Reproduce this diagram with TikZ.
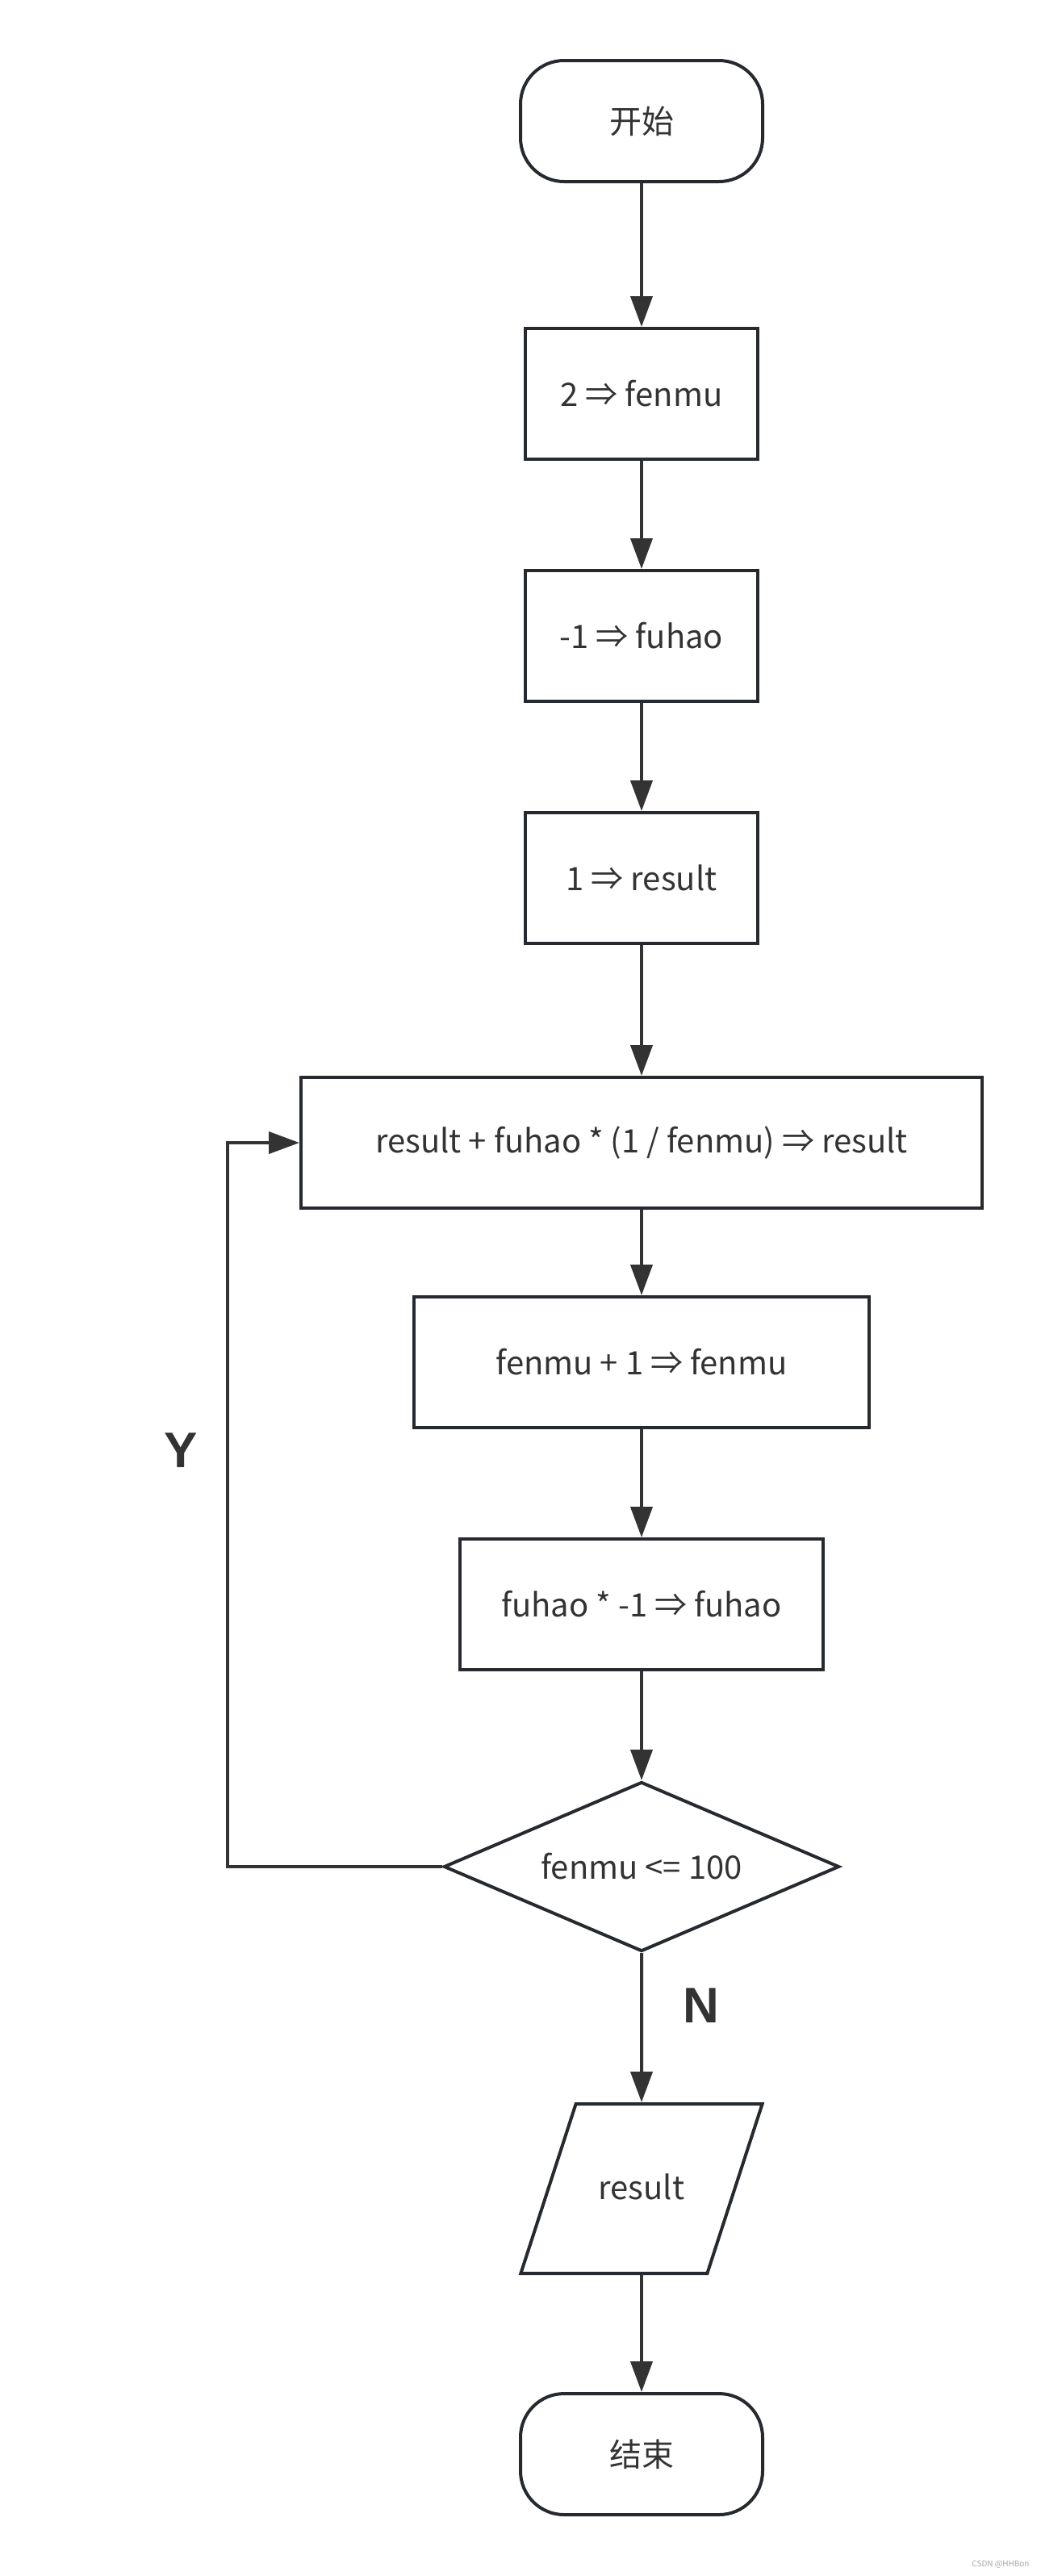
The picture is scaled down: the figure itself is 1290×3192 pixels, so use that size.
\documentclass[tikz,border=0pt]{standalone}
\usepackage{fontspec}
\setmainfont{Noto Sans CJK SC}
\newfontfamily\lblfont{Liberation Sans}
\usepackage{tikz}
\usetikzlibrary{shapes.geometric,arrows.meta}

\definecolor{edgecol}{HTML}{262A2E}
\definecolor{txtcol}{HTML}{333333}

\tikzset{
  base/.style={draw=edgecol,line width=2pt,text=txtcol,font=\fontsize{20}{24}\selectfont,inner sep=0pt},
  term/.style={base,rectangle,rounded corners=27pt,minimum width=150pt,minimum height=75pt},
  proc/.style={base,rectangle,minimum height=81pt},
  decide/.style={base,diamond,aspect=2.33,minimum width=245pt,minimum height=105pt},
  io/.style={base,trapezium,trapezium left angle=72,trapezium right angle=108,text width=54pt,align=center,text height=13pt,text depth=0pt,inner xsep=13.7pt,inner ysep=46pt},
  lbl/.style={text=txtcol,font=\lblfont\bfseries\fontsize{31}{36}\selectfont}
}

\begin{document}
\begin{tikzpicture}[x=0.5pt,y=-0.5pt,->,>={Triangle[length=19pt,width=13.5pt]},line width=2pt,draw=txtcol,node distance=150pt]
\useasboundingbox[fill=white] (0,0) rectangle (1290,3192);

\node[term] (start) at (795,150) {开始};
\node[proc,minimum width=144pt] (b1) [below of=start,node distance=169pt] {2 ⇒ fenmu};
\node[proc,minimum width=144pt] (b2) [below of=b1] {-1 ⇒ fuhao};
\node[proc,minimum width=144pt] (b3) [below of=b2] {1 ⇒ result};
\node[proc,minimum width=422pt] (b4) [below of=b3,node distance=164pt] {result + fuhao * (1 / fenmu) ⇒ result};
\node[proc,minimum width=282pt] (b5) [below of=b4,node distance=136pt] {fenmu + 1 ⇒ fenmu};
\node[proc,minimum width=225pt] (b6) [below of=b5] {fuhao * -1 ⇒ fuhao};
\node[decide] (dec) [below of=b6,node distance=162.5pt] {fenmu <= 100};
\node[io] (out) [below of=dec,node distance=199.5pt] {result};
\node[term] (stop) [below of=out,node distance=164.5pt] {结束};

\node[lbl] (ylab) at (224,1797) {Y};
\node[lbl] (nlab) at (869,2485) {N};
\node[text=gray!70,font=\fontsize{5}{6}\selectfont] (mark) at (1240,3178) {CSDN @HHBon};

\path (start) edge (b1)
(b1) edge (b2)
(b2) edge (b3)
(b3) edge (b4)
(b4) edge (b5)
(b5) edge (b6)
(b6) edge (dec)
(dec) edge (out)
(out) edge (stop);
\draw (dec.west) -- ++(-266,0) |- (b4.west);
\end{tikzpicture}
\end{document}
